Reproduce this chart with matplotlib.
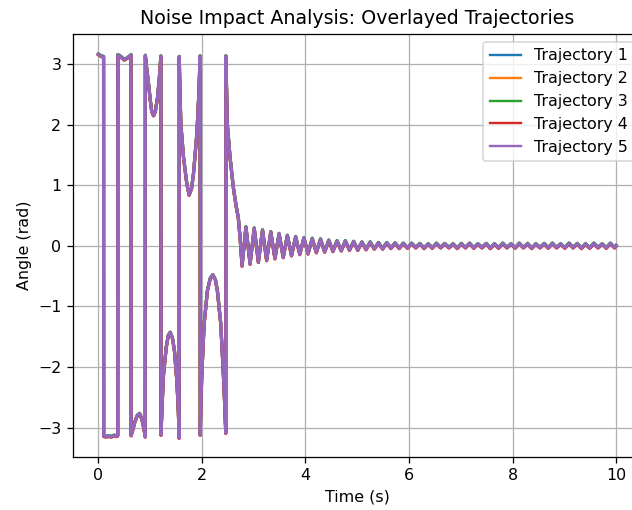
import matplotlib
matplotlib.use('Agg')
import matplotlib.pyplot as plt  # type: ignore
import numpy as np  # type: ignore

# --- swing-up phase: points (time s, angle rad) ---
# angle is wrapped to [-pi, pi], so the vertical jumps are wraps
swing_t = [0.00, 0.05, 0.10, 0.102, 0.15, 0.20, 0.25, 0.30, 0.36, 0.374,
           0.376, 0.42, 0.50, 0.56, 0.62, 0.630,
           0.632, 0.66, 0.70, 0.75, 0.796, 0.84, 0.88, 0.905,
           0.907, 0.93, 0.969, 1.00, 1.03, 1.066, 1.10, 1.143, 1.18, 1.207,
           1.209, 1.235, 1.258, 1.31, 1.35, 1.387, 1.43, 1.47, 1.516, 1.545, 1.560,
           1.562, 1.575, 1.593, 1.644, 1.709, 1.753, 1.80, 1.836, 1.902, 1.94, 1.965,
           1.967, 1.98, 1.998, 2.042, 2.106, 2.16, 2.21, 2.26, 2.298, 2.364, 2.414, 2.44, 2.460,
           2.462, 2.49, 2.543, 2.607, 2.66, 2.703, 2.74, 2.775]
swing_a = [3.16, 3.13, 3.12, -3.14, -3.15, -3.14, -3.15, -3.13, -3.14, -3.13,
           3.15, 3.13, 3.07, 3.10, 3.14, 3.15,
           -3.13, -3.05, -2.92, -2.80, -2.77, -2.86, -3.02, -3.15,
           3.14, 2.95, 2.67, 2.42, 2.22, 2.15, 2.22, 2.45, 2.80, 3.13,
           -3.12, -2.55, -2.12, -1.68, -1.48, -1.43, -1.52, -1.74, -2.23, -2.75, -3.17,
           3.12, 2.55, 2.01, 1.46, 1.02, 0.84, 0.95, 1.18, 1.85, 2.50, 3.13,
           -3.12, -2.60, -2.12, -1.29, -0.74, -0.54, -0.48, -0.56, -0.74, -1.29, -2.12, -2.62, -3.09,
           3.13, 2.01, 1.46, 0.96, 0.66, 0.46, 0.10, -0.33]

# --- balancing phase: peaks / troughs of the damped oscillation ---
osc_t = [2.85, 2.93, 3.01, 3.09, 3.17, 3.25, 3.33, 3.41, 3.49, 3.57,
         3.65, 3.73, 3.81, 3.89, 3.97, 4.05, 4.13, 4.21, 4.29, 4.37,
         4.45, 4.53, 4.61, 4.69, 4.77, 4.85, 4.93, 5.01, 5.09, 5.17,
         5.25, 5.33, 5.41, 5.49, 5.57, 5.65, 5.73, 5.81, 5.89, 5.97,
         6.05, 6.13, 6.21, 6.29, 6.37, 6.45, 6.53, 6.61, 6.69, 6.77,
         6.85, 6.93, 7.01, 7.09, 7.17, 7.25, 7.33, 7.41, 7.49, 7.57,
         7.65, 7.73, 7.81, 7.89, 7.97, 8.05, 8.13, 8.21, 8.29, 8.37,
         8.45, 8.53, 8.61, 8.69, 8.77, 8.85, 8.93, 9.01, 9.09, 9.17,
         9.25, 9.33, 9.41, 9.49, 9.57, 9.65, 9.73, 9.81, 9.89, 9.97, 10.0]
osc_a = [0.31, -0.30, 0.29, -0.27, 0.26, -0.24, 0.23, -0.21, 0.20, -0.19,
         0.17, -0.16, 0.15, -0.14, 0.13, -0.13, 0.12, -0.11, 0.11, -0.10,
         0.09, -0.09, 0.08, -0.08, 0.08, -0.07, 0.07, -0.07, 0.06, -0.06,
         0.06, -0.05, 0.05, -0.05, 0.05, -0.04, 0.045, -0.04, 0.04, -0.035,
         0.04, -0.03, 0.035, -0.04, 0.03, -0.035, 0.04, -0.03, 0.035, -0.03,
         0.03, -0.04, 0.035, -0.03, 0.04, -0.035, 0.03, -0.03, 0.035, -0.04,
         0.03, -0.035, 0.04, -0.03, 0.03, -0.035, 0.04, -0.03, 0.035, -0.04,
         0.03, -0.03, 0.035, -0.035, 0.04, -0.03, 0.03, -0.035, 0.04, -0.03,
         0.035, -0.04, 0.03, -0.035, 0.04, -0.03, 0.03, -0.035, 0.04, -0.03, 0.0]

# small shift of each noisy run relative to the one drawn on top
traj_labels = ['Trajectory 1', 'Trajectory 2', 'Trajectory 3', 'Trajectory 4', 'Trajectory 5']
traj_offsets = [0.005, -0.004, 0.006, -0.008, 0.0]

time = np.array(swing_t + osc_t)
angle = np.array(swing_a + osc_a)

DPI = 114
fig = plt.figure(figsize=(632 / DPI, 510 / DPI), dpi=DPI)
# axes run a bit past the right edge of the figure, as in the original
ax = fig.add_axes([72.5 / 632, 53.3 / 510, 569.5 / 632, 422.7 / 510])

for label, off in zip(traj_labels, traj_offsets):
    ax.plot(time, angle + off, label=label, linewidth=2.0)

ax.set_xlim(-0.5, 10.5)
ax.set_ylim(-3.48, 3.495)
ax.set_title('Noise Impact Analysis: Overlayed Trajectories')
ax.set_xlabel('Time (s)')
ax.set_ylabel('Angle (rad)')
ax.grid(True)
leg = ax.legend(loc='upper right')
# overlapping runs look thick on the plot, legend keys stay regular
for h in leg.get_lines():
    h.set_linewidth(1.5)

fig.savefig('out.png', dpi=DPI)
